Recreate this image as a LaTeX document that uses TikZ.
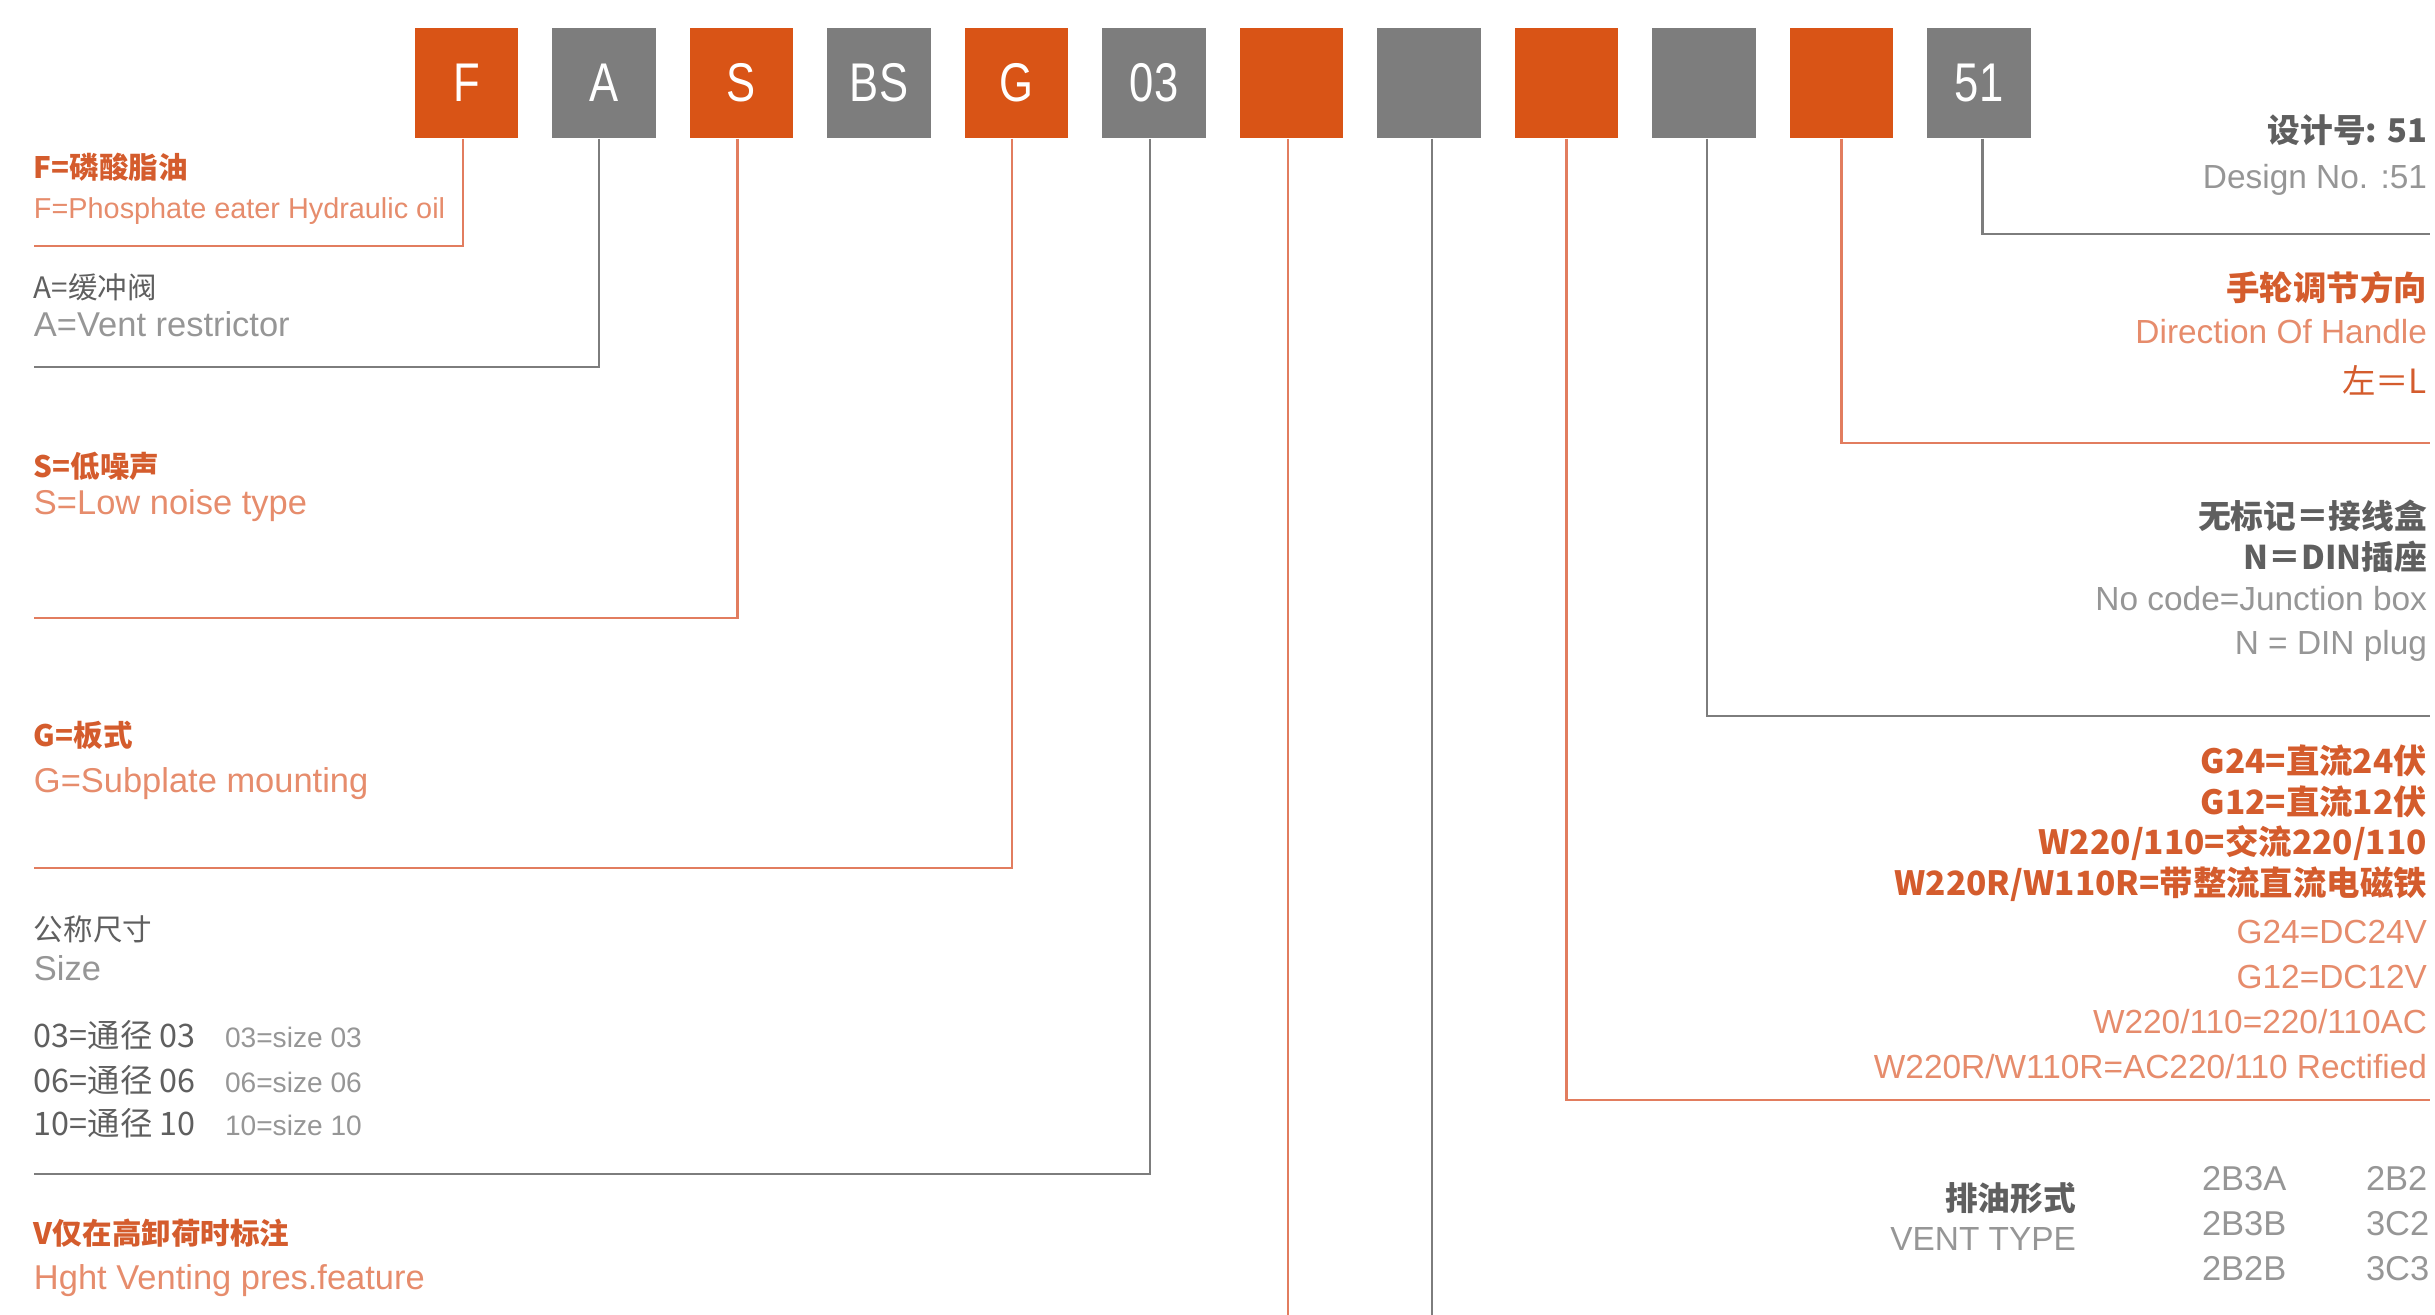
\documentclass[tikz,border=0pt]{standalone}
\usepackage{fontspec}
\setmainfont{Liberation Sans}
\newfontfamily\cjk{Noto Sans CJK SC}
\newfontfamily\boxfont[FakeStretch=0.8]{Liberation Sans}
\definecolor{org}{RGB}{217,84,22}
\definecolor{gbox}{RGB}{125,125,125}
\definecolor{otext}{RGB}{212,92,45}
\definecolor{olight}{RGB}{230,140,108}
\definecolor{gtext}{RGB}{95,95,95}
\definecolor{glight}{RGB}{150,150,150}
\definecolor{olinec}{RGB}{226,125,95}
\definecolor{glinec}{RGB}{125,125,125}
\tikzset{
  cbox/.style={minimum width=1.03cm, minimum height=1.10cm, inner sep=0pt, text=white,
    font=\boxfont\fontsize{15.5pt}{18pt}\selectfont},
  obox/.style={cbox, fill=org},
  gbx/.style={cbox, fill=gbox},
  txt/.style={inner sep=0pt, outer sep=0pt},
  ol/.style={draw=olinec, line width=0.7pt},
  gl/.style={draw=glinec, line width=0.7pt},
  lco/.style={txt, anchor=base west, text=otext, font=\cjk\bfseries\fontsize{8.4pt}{10pt}\selectfont},
  lcg/.style={txt, anchor=base west, text=gtext, font=\cjk\fontsize{8.4pt}{10pt}\selectfont},
  leo/.style={txt, anchor=base west, text=olight, font=\fontsize{9.8pt}{11pt}\selectfont},
  leg/.style={txt, anchor=base west, text=glight, font=\fontsize{9.8pt}{11pt}\selectfont},
  rco/.style={txt, anchor=base east, text=otext, font=\cjk\bfseries\fontsize{9.5pt}{11pt}\selectfont},
  rcg/.style={txt, anchor=base east, text=gtext, font=\cjk\bfseries\fontsize{9.3pt}{11pt}\selectfont},
  reo/.style={txt, anchor=base east, text=olight, font=\fontsize{9.5pt}{11pt}\selectfont},
  reg/.style={txt, anchor=base east, text=glight, font=\fontsize{9.5pt}{11pt}\selectfont},
}
\begin{document}
\begin{tikzpicture}[x=0.01cm, y=-0.01cm]
\useasboundingbox (0,0) rectangle (2435,1315);
% code boxes
\node[obox] (bF)  at (466.5,83) {F};
\node[gbx]  (bA)  at (604,83)   {A};
\node[obox] (bS)  at (741.5,83) {S};
\node[gbx]  (bBS) at (879,83)   {BS};
\node[obox] (bG)  at (1016.5,83) {G};
\node[gbx]  (b03) at (1154,83)  {03};
\node[obox] (b6)  at (1291.5,83) {};
\node[gbx]  (b7)  at (1429,83)  {};
\node[obox] (b8)  at (1566.5,83) {};
\node[gbx]  (b9)  at (1704,83)  {};
\node[obox] (b10) at (1841.5,83) {};
\node[gbx]  (b51) at (1979,83)  {51};
% line ends
\coordinate (eF)  at (34,246);
\coordinate (eA)  at (34,367);
\coordinate (eS)  at (34,618);
\coordinate (eG)  at (34,868);
\coordinate (e03) at (34,1174);
\coordinate (e6)  at (1288,1315);
\coordinate (e7)  at (1432,1315);
\coordinate (e8)  at (2430,1100);
\coordinate (e9)  at (2430,716);
\coordinate (e10) at (2430,443);
\coordinate (e51) at (2430,234);
% connectors
\draw[ol] ([xshift=-0.035cm]bF.south) |- (eF);
\draw[gl] ([xshift=-0.05cm]bA.south) |- (eA);
\draw[ol] ([xshift=-0.04cm]bS.south) |- (eS);
\draw[ol] ([xshift=-0.045cm]bG.south) |- (eG);
\draw[gl] ([xshift=-0.04cm]b03.south) |- (e03);
\draw[ol] (b6.south -| e6) -- (e6);
\draw[gl] (b7.south -| e7) -- (e7);
\draw[ol] (b8.south) |- (e8);
\draw[gl] ([xshift=0.03cm]b9.south) |- (e9);
\draw[ol] (b10.south) |- (e10);
\draw[gl] ([xshift=0.035cm]b51.south) |- (e51);
% left texts
\node[lco] (f1) at (34,178) {F=磷酸脂油};
\node[leo, font=\fontsize{8.2pt}{10pt}\selectfont] (f2) at (34,218) {F=Phosphate eater Hydraulic oil};
\node[lcg] (a1) at (34,298) {A=缓冲阀};
\node[leg] (a2) at (34,336) {A=Vent restrictor};
\node[lco] (s1) at (34,477) {S=低噪声};
\node[leo] (s2) at (34,514) {S=Low noise type};
\node[lco] (g1) at (34,746) {G=板式};
\node[leo] (g2) at (34,792) {G=Subplate mounting};
\node[lcg] (z1) at (34,940) {公称尺寸};
\node[leg] (z2) at (34,980) {Size};
\node[lcg, font=\cjk\fontsize{9.2pt}{11pt}\selectfont] (z3) at (34,1047) {03=通径 03};
\node[lcg, font=\cjk\fontsize{9.2pt}{11pt}\selectfont] (z4) at (34,1092) {06=通径 06};
\node[lcg, font=\cjk\fontsize{9.2pt}{11pt}\selectfont] (z5) at (34,1135) {10=通径 10};
\node[leg, font=\fontsize{8pt}{10pt}\selectfont] (z3e) at (225,1047) {03=size 03};
\node[leg, font=\fontsize{8pt}{10pt}\selectfont] (z4e) at (225,1092) {06=size 06};
\node[leg, font=\fontsize{8pt}{10pt}\selectfont] (z5e) at (225,1135) {10=size 10};
\node[lco] (v1) at (34,1244) {V仅在高卸荷时标注};
\node[leo] (v2) at (34,1289) {Hght Venting pres.feature};
% right texts
\node[rcg] (d1) at (2427,143) {设计号: 51};
\node[reg] (d2) at (2427,188) {Design No. :51};
\node[rco] (h1) at (2427,300) {手轮调节方向};
\node[reo] (h2) at (2427,343) {Direction Of Handle};
\node[rco, font=\cjk\fontsize{9.5pt}{11pt}\selectfont] (h3) at (2427,393) {左＝L};
\node[rcg] (n1) at (2427,528) {无标记＝接线盒};
\node[rcg] (n2) at (2427,569) {N＝DIN插座};
\node[reg] (n3) at (2427,610) {No code=Junction box};
\node[reg] (n4) at (2427,654) {N = DIN plug};
\node[rco] (p1) at (2427,773) {G24=直流24伏};
\node[rco] (p2) at (2427,814) {G12=直流12伏};
\node[rco] (p3) at (2427,854) {W220/110=交流220/110};
\node[rco] (p4) at (2427,895) {W220R/W110R=带整流直流电磁铁};
\node[reo] (p5) at (2427,943) {G24=DC24V};
\node[reo] (p6) at (2427,988) {G12=DC12V};
\node[reo] (p7) at (2427,1033) {W220/110=220/110AC};
\node[reo] (p8) at (2427,1078) {W220R/W110R=AC220/110 Rectified};
\node[rcg] (t1) at (2076,1210) {排油形式};
\node[reg] (t2) at (2076,1250) {VENT TYPE};
\node[leg] (c1) at (2202,1190) {2B3A};
\node[leg] (c2) at (2202,1235) {2B3B};
\node[leg] (c3) at (2202,1280) {2B2B};
\node[leg] (c4) at (2366,1190) {2B2};
\node[leg] (c5) at (2366,1235) {3C2};
\node[leg] (c6) at (2366,1280) {3C3};
\end{tikzpicture}
\end{document}
